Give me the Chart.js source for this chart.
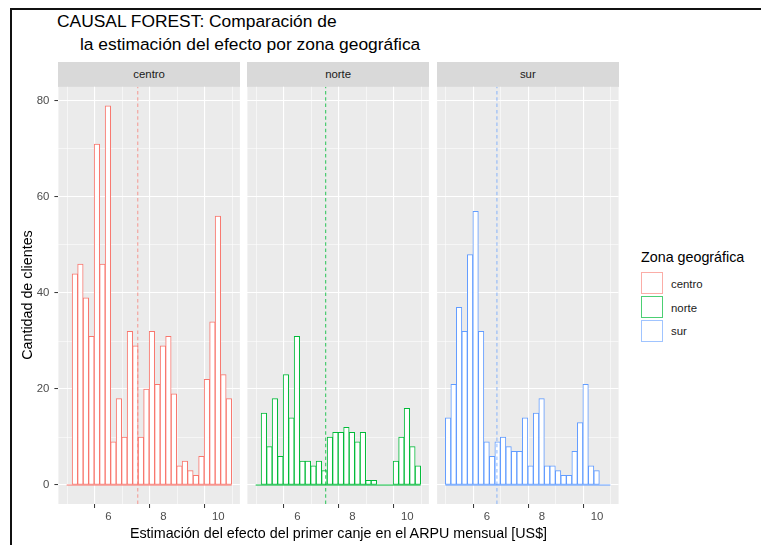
<!DOCTYPE html>
<html>
<head>
<meta charset="utf-8">
<script src="https://cdn.jsdelivr.net/npm/chart.js@4/dist/chart.umd.min.js"></script>
<style>
  html, body { margin: 0; padding: 0; }
  body { width: 761px; height: 545px; position: relative; overflow: hidden; background: #fff;
         font-family: "Liberation Sans", Arial, sans-serif; }
  .abs { position: absolute; }
  canvas { position: absolute; }
  .strip { position: absolute; background: #D9D9D9; color: #1A1A1A; font-size: 11.4px;
           display: flex; align-items: center; justify-content: center; }
  .key { position: absolute; width: 20px; height: 20px; background: #fff; border: 1.5px solid; }
  .klab { position: absolute; font-size: 11.4px; color: #1A1A1A; line-height: 14px; }
</style>
</head>
<body>
<div class="abs" style="left:10px;top:8px;width:760px;height:545px;border-top:2px solid #111;border-left:2px solid #111;"></div>
<div class="abs" style="left:57px;top:11px;font-size:17.4px;line-height:20px;color:#000;white-space:nowrap;">CAUSAL FOREST: Comparación de</div>
<div class="abs" style="left:80px;top:34px;font-size:17.4px;line-height:20px;color:#000;white-space:nowrap;">la estimación del efecto por zona geográfica</div>
<div id="strips"></div>
<div id="charts"></div>
<div class="abs" style="left:58px;width:561px;top:525px;font-size:14.3px;line-height:17px;text-align:center;color:#000;white-space:nowrap;">Estimación del efecto del primer canje en el ARPU mensual [US$]</div>
<div class="abs" style="left:27px;top:295px;width:0;height:0;">
  <div style="position:absolute;left:-100px;top:-9px;width:200px;height:18px;font-size:14.3px;line-height:18px;font-weight:normal;text-align:center;transform:rotate(-90deg);color:#000;white-space:nowrap;">Cantidad de clientes</div>
</div>
<div class="abs" style="left:641px;top:249px;font-size:14.3px;line-height:17px;color:#000;white-space:nowrap;">Zona geográfica</div>
<div id="legend"></div>
<script>
// ---- data ----
const zones = ["centro", "norte", "sur"];
const binCenters = [4.585, 4.785, 4.985, 5.185, 5.385, 5.585, 5.785, 5.985, 6.185, 6.385,
                    6.585, 6.785, 6.985, 7.185, 7.385, 7.585, 7.785, 7.985, 8.185, 8.385,
                    8.585, 8.785, 8.985, 9.185, 9.385, 9.585, 9.785, 9.985, 10.185, 10.385];
const firstEdge = 4.485;
const lastEdge = 10.485;
const countsCentro = [0, 44, 46, 39, 31, 71, 46, 79, 9, 18, 10, 32, 29, 10, 20, 32, 21, 29, 31, 19, 4, 5, 3, 2, 6, 22, 34, 56, 23, 18];
const countsNorte  = [0, 15, 8, 18, 6, 23, 14, 31, 5, 5, 4, 5, 3, 10, 11, 11, 12, 11, 9, 11, 1, 1, 0, 0, 0, 5, 10, 16, 8, 4];
const countsSur    = [14, 21, 37, 32, 48, 57, 32, 9, 6, 9, 10, 8, 7, 7, 14, 4, 15, 18, 4, 4, 3, 2, 2, 7, 13, 21, 4, 3, 0, 0];
const meanEffect = [7.07, 7.03, 6.36];
const xTicks = [5, 6, 7, 8, 9, 10];
const xMajor = [6, 8, 10];
const yTicks = [0, 10, 20, 30, 40, 50, 60, 70, 80];
const yMajor = [0, 20, 40, 60, 80];
const xLimits = [4.185, 10.785];
const yLimits = [-3.95, 82.95];

// ---- styling / layout ----
const colors = ["#F8766D", "#00BA38", "#619CFF"];
const dashColors = ["rgba(248,118,109,0.6)", "rgba(0,186,56,0.7)", "rgba(97,156,255,0.6)"];
const allCounts = [countsCentro, countsNorte, countsSur];
const panelLeft = [58.4, 247.4, 437.1];
const panelWidth = 181.5;
const panelTop = 86.8, panelBottom = 504;
const stripTop = 62;
const canvasTop = 80, canvasHeight = 465;

const stripsEl = document.getElementById('strips');
const chartsEl = document.getElementById('charts');

const bgPlugin = {
  id: 'panelBg',
  beforeDraw(chart) {
    const a = chart.chartArea, c = chart.ctx;
    c.save(); c.fillStyle = '#EBEBEB';
    c.fillRect(a.left, a.top, a.right - a.left, a.bottom - a.top);
    c.restore();
  }
};

function noPad(sc) {
  sc.paddingTop = 0; sc.paddingBottom = 0; sc.paddingLeft = 0; sc.paddingRight = 0;
}

zones.forEach((z, i) => {
  const s = document.createElement('div');
  s.className = 'strip';
  s.style.left = panelLeft[i] + 'px';
  s.style.width = panelWidth + 'px';
  s.style.top = stripTop + 'px';
  s.style.height = (panelTop - stripTop) + 'px';
  s.textContent = z;
  stripsEl.appendChild(s);

  const pl = panelLeft[i], pr = pl + panelWidth;
  const cl = i === 0 ? 0 : Math.floor(pl) - 1;
  const cr = Math.ceil(pr) + 1;
  const cv = document.createElement('canvas');
  cv.width = cr - cl; cv.height = canvasHeight;
  cv.style.left = cl + 'px'; cv.style.top = canvasTop + 'px';
  cv.style.width = (cr - cl) + 'px'; cv.style.height = canvasHeight + 'px';
  chartsEl.appendChild(cv);

  const yAxisW = pl - cl;
  const xAxisH = canvasHeight - (panelBottom - canvasTop);

  new Chart(cv.getContext('2d'), {
    type: 'bar',
    data: {
      datasets: [
        {
          type: 'bar',
          data: binCenters.map((x, k) => ({ x: x, y: allCounts[i][k] })),
          backgroundColor: '#FFFFFF',
          borderColor: colors[i],
          borderWidth: 1,
          borderSkipped: false,
          barPercentage: 1,
          categoryPercentage: 1,
          order: 2
        },
        {
          type: 'line',
          data: [{ x: firstEdge, y: 0 }, { x: lastEdge, y: 0 }],
          borderColor: colors[i], borderWidth: 1, pointRadius: 0, fill: false, order: 1
        },
        {
          type: 'line',
          data: [{ x: meanEffect[i], y: yLimits[0] }, { x: meanEffect[i], y: yLimits[1] }],
          borderColor: dashColors[i], borderWidth: 1.2, borderDash: [3.5, 2.8],
          pointRadius: 0, fill: false, order: 0
        }
      ]
    },
    options: {
      responsive: false, animation: false, devicePixelRatio: 1,
      layout: { padding: { left: 0, right: cr - pr, top: panelTop - canvasTop, bottom: 0 } },
      plugins: { legend: { display: false }, tooltip: { enabled: false } },
      scales: {
        x: {
          type: 'linear', min: xLimits[0], max: xLimits[1], offset: false,
          afterBuildTicks: (sc) => { sc.ticks = xTicks.map(v => ({ value: v })); },
          afterFit: (sc) => { sc.height = xAxisH; noPad(sc); },
          border: { display: false },
          grid: {
            color: '#FFFFFF',
            lineWidth: (c) => (c.tick && xMajor.includes(c.tick.value)) ? 1.1 : 0.55,
            drawTicks: true, tickLength: 4, tickWidth: 1,
            tickColor: (c) => (c.tick && xMajor.includes(c.tick.value)) ? '#333333' : 'rgba(0,0,0,0)'
          },
          ticks: {
            autoSkip: false, maxRotation: 0, padding: 2, color: '#4D4D4D',
            font: { family: '"Liberation Sans", Arial, sans-serif', size: 11.4 },
            callback: (v) => xMajor.includes(v) ? String(v) : ''
          }
        },
        y: {
          type: 'linear', min: yLimits[0], max: yLimits[1],
          afterBuildTicks: (sc) => { sc.ticks = yTicks.map(v => ({ value: v })); },
          afterFit: (sc) => { sc.width = yAxisW; noPad(sc); },
          border: { display: false },
          grid: {
            color: '#FFFFFF',
            lineWidth: (c) => (c.tick && yMajor.includes(c.tick.value)) ? 1.1 : 0.55,
            drawTicks: i === 0, tickLength: 4, tickWidth: 1,
            tickColor: (c) => (c.tick && yMajor.includes(c.tick.value)) ? '#333333' : 'rgba(0,0,0,0)'
          },
          ticks: {
            display: i === 0, autoSkip: false, padding: 5, color: '#4D4D4D',
            font: { family: '"Liberation Sans", Arial, sans-serif', size: 11.4 },
            callback: (v) => yMajor.includes(v) ? String(v) : ''
          }
        }
      }
    },
    plugins: [bgPlugin]
  });
});

// legend
const legendEl = document.getElementById('legend');
const keyTops = [272, 296, 319.5];
zones.forEach((z, i) => {
  const k = document.createElement('div');
  k.className = 'key';
  k.style.left = '641px';
  k.style.top = keyTops[i] + 'px';
  k.style.borderColor = dashColors[i];
  legendEl.appendChild(k);
  const t = document.createElement('div');
  t.className = 'klab';
  t.style.left = '671px';
  t.style.top = (keyTops[i] + 4.5) + 'px';
  t.textContent = z;
  legendEl.appendChild(t);
});
</script>
</body>
</html>
